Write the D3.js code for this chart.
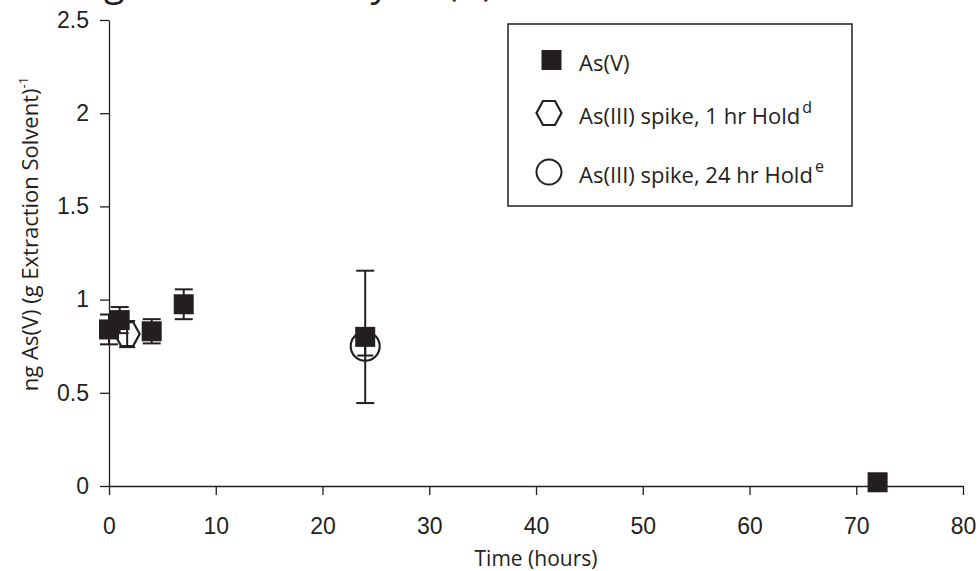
<!DOCTYPE html>
<html><head><meta charset="utf-8">
<script src="https://cdn.jsdelivr.net/npm/d3@7"></script>
<style>
body{margin:0;background:#fff;}
svg{display:block;}
</style></head>
<body>
<svg id="chart" width="979" height="571"></svg>
<script>
// ---- data ----
const titleText = "Holding Time Stability As(V)";
const xTicks = [0, 10, 20, 30, 40, 50, 60, 70, 80];
const yTicks = [0, 0.5, 1, 1.5, 2, 2.5];
const timeAsV = [0, 1, 4, 7, 24, 72];
const valueAsV = [0.84, 0.89, 0.83, 0.975, 0.80, 0.02];
const errAsV = [0.08, 0.07, 0.065, 0.08, 0.355, 0];
const timeSpike1 = [1.7];
const valueSpike1 = [0.815];
const errSpike1 = [0.07];
const timeSpike24 = [24];
const valueSpike24 = [0.75];
const errSpike24 = [0.05];
const legendLabels = ["As(V)", "As(III) spike, 1 hr Hold", "As(III) spike, 24 hr Hold"];
const legendSups = ["", "d", "e"];

const ink = "#231f20";
const svg = d3.select("#chart");
const x = d3.scaleLinear().domain([0, 80]).range([109, 963]);
const y = d3.scaleLinear().domain([0, 2.5]).range([486, 20]);
const humanist = "'Open Sans', 'Noto Sans', sans-serif";

// title (cut off at the top edge, only descenders visible)
const title = svg.append("text").attr("y", -4)
  .attr("font-family", humanist).attr("font-size", 38).attr("letter-spacing", 1.2)
  .attr("fill", ink).text(titleText);
const off = title.node().getSubStringLength(0, 6);
title.attr("x", 104 - off);

// axes
const xAxis = svg.append("g").attr("transform", `translate(0,${y(0)})`)
  .call(d3.axisBottom(x).tickValues(xTicks).tickSize(9).tickSizeOuter(0).tickPadding(23));
const yAxis = svg.append("g").attr("transform", `translate(${x(0)},0)`)
  .call(d3.axisLeft(y).tickValues(yTicks).tickSize(9).tickSizeOuter(0).tickPadding(11)
    .tickFormat(d => d3.format("")(d)));
[xAxis, yAxis].forEach(a => {
  a.selectAll("path,line").attr("stroke", ink).attr("stroke-width", 1.3);
  a.selectAll("text").attr("font-family", "'Liberation Sans', Arial, sans-serif")
    .attr("font-size", 23).attr("fill", ink);
});

// axis labels
svg.append("text").attr("x", x(40)).attr("y", 566).attr("text-anchor", "middle")
  .attr("font-family", humanist).attr("font-size", 21).attr("fill", ink).text("Time (hours)");
const yl = svg.append("text").attr("transform", "translate(38,234) rotate(-90)")
  .attr("text-anchor", "middle").attr("font-family", humanist).attr("font-size", 22).attr("fill", ink);
yl.append("tspan").text("ng As(V) (g Extraction Solvent)");
yl.append("tspan").attr("font-size", 13).attr("dy", -10).text("-1");

// marker shapes
const hexPts = [[-12.5,0],[-6,-12],[6,-12],[12.5,0],[6,12],[-6,12]];
const hexPath = d3.line()(hexPts) + "Z";
const sq = d3.symbol().type(d3.symbolSquare).size(400)();
const circ = d3.symbol().type(d3.symbolCircle).size(Math.PI * 14.5 * 14.5)();

function errorBars(ts, vs, es, cap) {
  const g = svg.append("g").attr("stroke", ink).attr("stroke-width", 2);
  ts.forEach((t, i) => {
    if (!es[i]) return;
    const cx = x(t), y1 = y(vs[i] + es[i]), y2 = y(vs[i] - es[i]);
    g.append("line").attr("x1", cx).attr("x2", cx).attr("y1", y1).attr("y2", y2);
    g.append("line").attr("x1", cx - cap/2).attr("x2", cx + cap/2).attr("y1", y1).attr("y2", y1);
    g.append("line").attr("x1", cx - cap/2).attr("x2", cx + cap/2).attr("y1", y2).attr("y2", y2);
  });
}

// hexagon series
errorBars(timeSpike1, valueSpike1, errSpike1, 16);
svg.append("g").selectAll("path").data(timeSpike1).join("path")
  .attr("d", hexPath).attr("transform", (d, i) => `translate(${x(d)},${y(valueSpike1[i])})`)
  .attr("fill", "none").attr("stroke", ink).attr("stroke-width", 2.2);
// circle series
errorBars(timeSpike24, valueSpike24, errSpike24, 16);
svg.append("g").selectAll("path").data(timeSpike24).join("path")
  .attr("d", circ).attr("transform", (d, i) => `translate(${x(d)},${y(valueSpike24[i])})`)
  .attr("fill", "none").attr("stroke", ink).attr("stroke-width", 2.2);
// As(V) squares
errorBars(timeAsV, valueAsV, errAsV, 18);
svg.append("g").selectAll("path").data(timeAsV).join("path")
  .attr("d", sq).attr("transform", (d, i) => `translate(${x(d)},${y(valueAsV[i])})`)
  .attr("fill", ink);

// legend
const lg = svg.append("g");
lg.append("rect").attr("x", 508).attr("y", 24).attr("width", 344).attr("height", 182)
  .attr("fill", "#fff").attr("stroke", ink).attr("stroke-width", 1.5);
const rowY = [60, 113, 172];
lg.append("path").attr("d", sq).attr("transform", `translate(551.5,${rowY[0]})`).attr("fill", ink);
lg.append("path").attr("d", hexPath).attr("transform", `translate(549,${rowY[1]})`)
  .attr("fill", "none").attr("stroke", ink).attr("stroke-width", 2.2);
lg.append("path").attr("d", d3.symbol().type(d3.symbolCircle).size(Math.PI*12.5*12.5)())
  .attr("transform", `translate(549,${rowY[2]})`)
  .attr("fill", "none").attr("stroke", ink).attr("stroke-width", 2);
legendLabels.forEach((lab, i) => {
  const t = lg.append("text").attr("x", 579).attr("y", rowY[i] + 11)
    .attr("font-family", humanist).attr("font-size", 22).attr("fill", ink);
  t.append("tspan").text(lab);
  if (legendSups[i]) t.append("tspan").attr("font-size", 16).attr("dy", -11).attr("dx", 2).text(legendSups[i]);
});
</script>
</body></html>
